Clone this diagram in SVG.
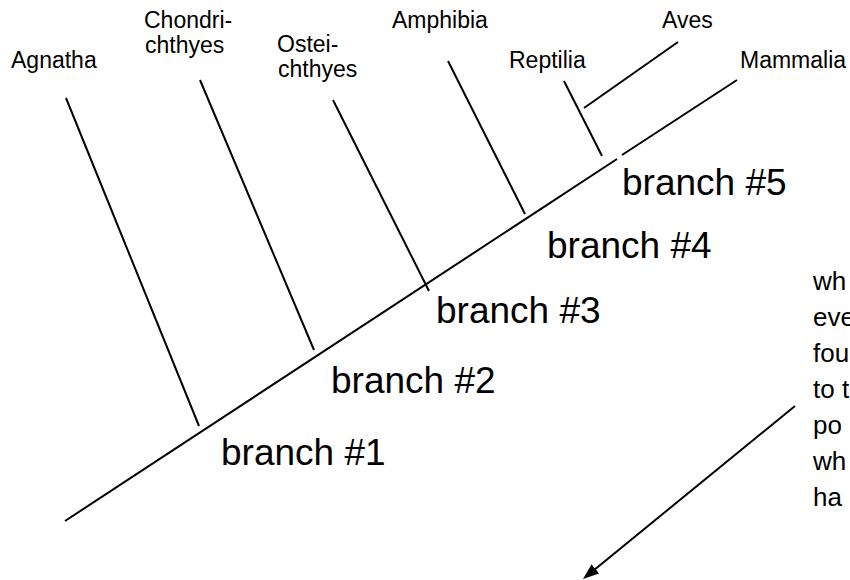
<svg xmlns="http://www.w3.org/2000/svg" width="850" height="580" viewBox="0 0 850 580">
<defs>
<marker id="arrow" markerWidth="16" markerHeight="12" refX="6" refY="6" orient="auto" markerUnits="userSpaceOnUse">
<path d="M0,0 L16,6 L0,12 z" fill="#000"/>
</marker>
<style>
.t{font-family:"Liberation Sans",Arial,sans-serif;font-size:23px;fill:#000}
.b{font-family:"Liberation Sans",Arial,sans-serif;font-size:37px;fill:#000}
.n{font-family:"Liberation Sans",Arial,sans-serif;font-size:26px;fill:#000}
.l{stroke:#000;stroke-width:2;fill:none}
</style>
</defs>
<rect width="850" height="580" fill="#fff"/>
<g id="connectors">
<line class="l" x1="65" y1="521" x2="617" y2="159"/>
<line class="l" x1="622" y1="155" x2="737" y2="80"/>
<line class="l" x1="66" y1="98" x2="199" y2="426"/>
<line class="l" x1="200" y1="80" x2="314" y2="350"/>
<line class="l" x1="333" y1="100" x2="429" y2="291"/>
<line class="l" x1="448" y1="61" x2="525" y2="214"/>
<line class="l" x1="564" y1="81" x2="602" y2="156"/>
<line class="l" x1="678" y1="42" x2="584" y2="108"/>
<line class="l" x1="795" y1="406" x2="590.75" y2="572.68" marker-end="url(#arrow)"/>
</g>
<g id="agnatha"><text class="t" x="11" y="68">Agnatha</text></g>
<g id="chondrichthyes"><text class="t" x="144" y="28">Chondri-</text><text class="t" x="145" y="53">chthyes</text></g>
<g id="osteichthyes"><text class="t" x="277" y="52">Ostei-</text><text class="t" x="278" y="77">chthyes</text></g>
<g id="amphibia"><text class="t" x="392" y="28">Amphibia</text></g>
<g id="reptilia"><text class="t" x="509" y="68">Reptilia</text></g>
<g id="aves"><text class="t" x="662" y="28">Aves</text></g>
<g id="mammalia"><text class="t" x="740" y="68">Mammalia</text></g>
<g id="branch1"><text class="b" x="221" y="465">branch #1</text></g>
<g id="branch2"><text class="b" x="331" y="393">branch #2</text></g>
<g id="branch3"><text class="b" x="436" y="323">branch #3</text></g>
<g id="branch4"><text class="b" x="547" y="258">branch #4</text></g>
<g id="branch5"><text class="b" x="622" y="195">branch #5</text></g>
<g id="note">
<text class="n" x="813" y="290">wh</text>
<text class="n" x="813" y="326">eve</text>
<text class="n" x="813" y="362">fou</text>
<text class="n" x="813" y="398">to t</text>
<text class="n" x="813" y="434">po</text>
<text class="n" x="813" y="470">wh</text>
<text class="n" x="813" y="506">ha</text>
</g>
</svg>
